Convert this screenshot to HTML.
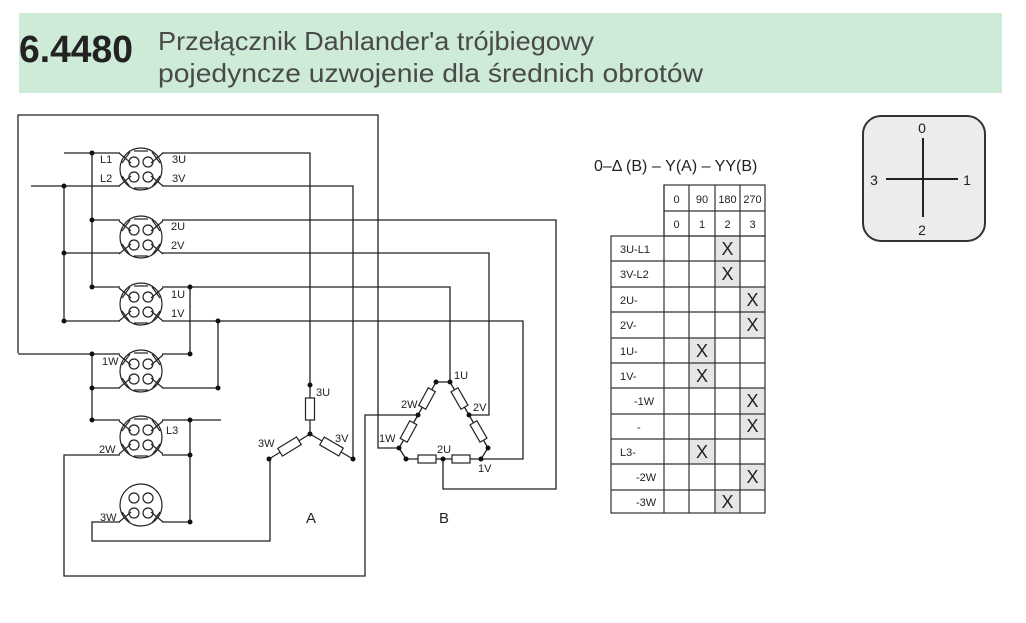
<!DOCTYPE html>
<html><head><meta charset="utf-8"><style>
html,body{margin:0;padding:0;background:#fff;}
svg{display:block;}
text{font-family:"Liberation Sans Narrow","Liberation Sans",sans-serif;fill:#222;}
</style></head><body>
<svg width="1026" height="623" viewBox="0 0 1026 623" xmlns="http://www.w3.org/2000/svg">
<rect x="19" y="13" width="983" height="80" fill="#cdebd6"/>
<text x="19" y="62" font-size="38" font-weight="bold" textLength="114" lengthAdjust="spacingAndGlyphs" fill="#1a1a1a">6.4480</text>
<text x="158" y="50" font-size="26" textLength="436" lengthAdjust="spacingAndGlyphs" style="fill:#4a4a4a">Przełącznik Dahlander'a trójbiegowy</text>
<text x="158" y="82" font-size="26" textLength="545" lengthAdjust="spacingAndGlyphs" style="fill:#4a4a4a">pojedyncze uzwojenie dla średnich obrotów</text>

<g stroke="#222" stroke-width="1.3" fill="none">
<polyline points="18,353 18,115 378,115 378,448 399,448"/>
<line x1="64" y1="153" x2="120" y2="153"/>
<line x1="31" y1="186" x2="120" y2="186"/>
<line x1="92" y1="153" x2="92" y2="287"/>
<line x1="64" y1="186" x2="64" y2="321"/>
<line x1="92" y1="220" x2="120" y2="220"/>
<line x1="64" y1="253" x2="120" y2="253"/>
<line x1="92" y1="287" x2="120" y2="287"/>
<line x1="64" y1="321" x2="120" y2="321"/>
<line x1="18" y1="354" x2="120" y2="354"/>
<line x1="92" y1="354" x2="92" y2="420"/>
<line x1="92" y1="388" x2="120" y2="388"/>
<line x1="92" y1="420" x2="120" y2="420"/>
<polyline points="120,455 64,455 64,576 365,576 365,415 418,415"/>
<polyline points="120,522 92,522 92,541 270,541 270,459"/>
<polyline points="162,153 310,153 310,385"/>
<polyline points="162,186 353,186 353,459"/>
<polyline points="162,220 556,220 556,489 443,489 443,459"/>
<polyline points="162,253 489,253 489,415 469,415"/>
<polyline points="162,287 450,287 450,382"/>
<polyline points="162,321 523,321 523,459 481,459"/>
<line x1="190" y1="287" x2="190" y2="354"/>
<line x1="162" y1="354" x2="190" y2="354"/>
<line x1="218" y1="321" x2="218" y2="388"/>
<line x1="162" y1="388" x2="218" y2="388"/>
<line x1="162" y1="420" x2="221" y2="420"/>
<line x1="190" y1="420" x2="190" y2="522"/>
<line x1="162" y1="455" x2="190" y2="455"/>
<line x1="162" y1="522" x2="190" y2="522"/>
<line x1="310" y1="385" x2="310" y2="434"/>
<line x1="310" y1="434" x2="269" y2="459"/>
<line x1="310" y1="434" x2="353" y2="459"/>
<polyline points="399,448 418,415 436,382 450,382 469,415 488,448 481,459 406,459 399,448"/>
</g>
<g stroke="#222" stroke-width="1.2" fill="#fff">
<rect x="305.5" y="398" width="9" height="22"/>
<rect x="-11" y="-4.5" width="22" height="9" transform="translate(289.5,446.5) rotate(-31.4)"/>
<rect x="-11" y="-4.5" width="22" height="9" transform="translate(331.5,446.5) rotate(30.2)"/>
<rect x="-10" y="-4" width="20" height="8" transform="translate(427,398.5) rotate(-61.4)"/>
<rect x="-10" y="-4" width="20" height="8" transform="translate(408.5,431.5) rotate(-61.4)"/>
<rect x="-10" y="-4" width="20" height="8" transform="translate(459.5,398.5) rotate(60)"/>
<rect x="-10" y="-4" width="20" height="8" transform="translate(478.5,431.5) rotate(60)"/>
<rect x="418" y="455" width="18" height="8"/>
<rect x="452" y="455" width="18" height="8"/>
</g>
<g fill="#111">
<circle cx="92" cy="153" r="2.5"/><circle cx="64" cy="186" r="2.5"/>
<circle cx="92" cy="220" r="2.5"/><circle cx="64" cy="253" r="2.5"/>
<circle cx="92" cy="287" r="2.5"/><circle cx="64" cy="321" r="2.5"/>
<circle cx="92" cy="354" r="2.5"/><circle cx="92" cy="388" r="2.5"/><circle cx="92" cy="420" r="2.5"/>
<circle cx="190" cy="287" r="2.5"/><circle cx="190" cy="354" r="2.5"/>
<circle cx="218" cy="321" r="2.5"/><circle cx="218" cy="388" r="2.5"/>
<circle cx="190" cy="420" r="2.5"/><circle cx="190" cy="455" r="2.5"/><circle cx="190" cy="522" r="2.5"/>
<circle cx="310" cy="385" r="2.5"/><circle cx="310" cy="434" r="2.5"/>
<circle cx="269" cy="459" r="2.5"/><circle cx="353" cy="459" r="2.5"/>
<circle cx="436" cy="382" r="2.5"/><circle cx="450" cy="382" r="2.5"/>
<circle cx="418" cy="415" r="2.5"/><circle cx="469" cy="415" r="2.5"/>
<circle cx="399" cy="448" r="2.5"/><circle cx="488" cy="448" r="2.5"/>
<circle cx="406" cy="459" r="2.5"/><circle cx="443" cy="459" r="2.5"/><circle cx="481" cy="459" r="2.5"/>
</g>
<defs>
<g id="ct" stroke="#222" stroke-width="1.2" fill="none">
<circle cx="0" cy="0" r="21" fill="#fff"/>
<circle cx="-7" cy="-7" r="5"/><circle cx="7" cy="-7" r="5"/>
<circle cx="-7" cy="8" r="5"/><circle cx="7" cy="8" r="5"/>
</g>
<g id="bars" stroke="#222" stroke-width="1.2">
<line x1="-7" y1="-18" x2="7" y2="-18"/><line x1="-7" y1="19" x2="7" y2="19"/>
</g>
<g id="xt" stroke="#222" stroke-width="1.2">
<line x1="-22" y1="-16" x2="-10" y2="-6"/><line x1="-19" y1="-6" x2="-11" y2="-17"/>
<line x1="22" y1="-16" x2="10" y2="-6"/><line x1="19" y1="-6" x2="11" y2="-17"/>
</g>
<g id="xb" stroke="#222" stroke-width="1.2">
<line x1="-22" y1="17" x2="-10" y2="7"/><line x1="-19" y1="7" x2="-11" y2="18"/>
<line x1="22" y1="17" x2="10" y2="7"/><line x1="19" y1="7" x2="11" y2="18"/>
</g>
</defs>
<g transform="translate(141,169)"><use href="#ct"/><use href="#bars"/><use href="#xt"/><use href="#xb"/></g>
<g transform="translate(141,237)"><use href="#ct"/><use href="#bars"/><use href="#xt"/><use href="#xb"/></g>
<g transform="translate(141,304)"><use href="#ct"/><use href="#bars"/><use href="#xt"/><use href="#xb"/></g>
<g transform="translate(141,371)"><use href="#ct"/><use href="#bars"/><use href="#xt"/><use href="#xb"/></g>
<g transform="translate(141,437)"><use href="#ct"/><use href="#bars"/><use href="#xt"/><use href="#xb"/></g>
<g transform="translate(141,505)"><use href="#ct"/><use href="#xb"/></g>

<g font-size="11">
<text x="100" y="163">L1</text><text x="100" y="182">L2</text>
<text x="172" y="163">3U</text><text x="172" y="182">3V</text>
<text x="171" y="230">2U</text><text x="171" y="249">2V</text>
<text x="171" y="298">1U</text><text x="171" y="317">1V</text>
<text x="102" y="365">1W</text>
<text x="166" y="434">L3</text>
<text x="99" y="453">2W</text>
<text x="100" y="521">3W</text>
<text x="316" y="396">3U</text>
<text x="258" y="447">3W</text>
<text x="335" y="442">3V</text>
<text x="454" y="379">1U</text>
<text x="401" y="408">2W</text>
<text x="473" y="411">2V</text>
<text x="379" y="442">1W</text>
<text x="437" y="453">2U</text>
<text x="478" y="472">1V</text>
</g>
<text x="306" y="523" font-size="15">A</text>
<text x="439" y="523" font-size="15">B</text>

<text x="594" y="171" font-size="16" fill="#333">0–Δ (B) – Y(A) – YY(B)</text>
<g fill="#e6e6e6">
<rect x="715" y="236" width="25" height="50"/>
<rect x="740" y="287" width="25" height="50"/>
<rect x="689" y="338" width="26" height="50"/>
<rect x="740" y="388" width="25" height="51"/>
<rect x="689" y="439" width="26" height="25"/>
<rect x="740" y="464" width="25" height="26"/>
<rect x="715" y="490" width="25" height="23"/>
</g>
<g stroke="#333" stroke-width="1.2" fill="none">
<rect x="664" y="185" width="101" height="51"/>
<line x1="664" y1="211" x2="765" y2="211"/>
<rect x="611" y="236" width="154" height="277"/>
<line x1="664" y1="185" x2="664" y2="513"/>
<line x1="689" y1="185" x2="689" y2="513"/>
<line x1="715" y1="185" x2="715" y2="513"/>
<line x1="740" y1="185" x2="740" y2="513"/>
<line x1="611" y1="261" x2="765" y2="261"/>
<line x1="611" y1="287" x2="765" y2="287"/>
<line x1="611" y1="312" x2="765" y2="312"/>
<line x1="611" y1="338" x2="765" y2="338"/>
<line x1="611" y1="363" x2="765" y2="363"/>
<line x1="611" y1="388" x2="765" y2="388"/>
<line x1="611" y1="414" x2="765" y2="414"/>
<line x1="611" y1="439" x2="765" y2="439"/>
<line x1="611" y1="464" x2="765" y2="464"/>
<line x1="611" y1="490" x2="765" y2="490"/>
</g>
<g font-size="11" text-anchor="middle">
<text x="676.5" y="203">0</text><text x="702" y="203">90</text><text x="727.5" y="203">180</text><text x="752.5" y="203">270</text>
<text x="676.5" y="228">0</text><text x="702" y="228">1</text><text x="727.5" y="228">2</text><text x="752.5" y="228">3</text>
</g>
<g font-size="11">
<text x="620" y="253">3U-L1</text><text x="620" y="278">3V-L2</text>
<text x="620" y="304">2U-</text><text x="620" y="329">2V-</text>
<text x="620" y="355">1U-</text><text x="620" y="380">1V-</text>
<text x="634" y="405">-1W</text><text x="637" y="431">-</text>
<text x="620" y="456">L3-</text><text x="636" y="481">-2W</text><text x="636" y="506">-3W</text>
</g>
<g font-size="18" text-anchor="middle" fill="#222">
<text x="727.5" y="255">X</text><text x="727.5" y="280">X</text>
<text x="752.5" y="306">X</text><text x="752.5" y="331">X</text>
<text x="702" y="357">X</text><text x="702" y="382">X</text>
<text x="752.5" y="407">X</text><text x="752.5" y="432">X</text>
<text x="702" y="458">X</text><text x="752.5" y="483">X</text>
<text x="727.5" y="508">X</text>
</g>

<rect x="863" y="116" width="122" height="125" rx="18" fill="#ececec" stroke="#333" stroke-width="2"/>
<line x1="923" y1="138" x2="923" y2="217" stroke="#222" stroke-width="2"/>
<line x1="886" y1="179" x2="958" y2="179" stroke="#222" stroke-width="2"/>
<g font-size="14" text-anchor="middle">
<text x="922" y="133">0</text><text x="967" y="185">1</text><text x="922" y="235">2</text><text x="874" y="185">3</text>
</g>
</svg>
</body></html>
